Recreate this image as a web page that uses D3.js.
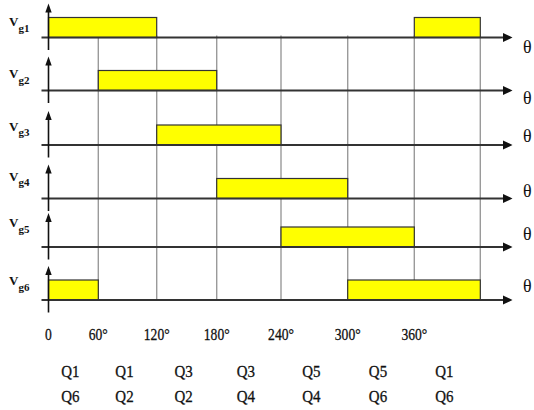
<!DOCTYPE html>
<html><head><meta charset="utf-8">
<script src="https://cdn.jsdelivr.net/npm/d3@7"></script>
<style>body{margin:0;background:#fff}svg{display:block}</style>
</head><body><svg id="c" width="534" height="410"></svg>
<script>
// ---- data ----
const signals = ["g1","g2","g3","g4","g5","g6"];
const pulses = [
  [[0,120],[360,420]],
  [[60,180]],
  [[120,240]],
  [[180,300]],
  [[240,360]],
  [[0,60],[300,420]]
];
const boundaries = [0,60,120,180,240,300,360,420];
const gridAngles = [60,120,180,240,300,360,420];
const tickAngles = [0,60,120,180,240,300,360];
const tickLabels = ["0","60°","120°","180°","240°","300°","360°"];
const qTop = ["Q1","Q1","Q3","Q3","Q5","Q5","Q1"];
const qBottom = ["Q6","Q2","Q2","Q4","Q4","Q6","Q6"];

// ---- layout ----
const x = d3.scaleLinear().domain(boundaries)
  .range([48.5,98.3,156.7,216.7,281,347.7,414.3,480.3]);
const y = d3.scaleOrdinal().domain(signals).range([37.5,90.5,145,198.5,247,300]);
const labelOff = [-11.5,-12.2,-14.5,-18,-20,-15];
const thetaOff = [9,7,-9,-7.5,-13.5,-14];
const barH = 20;
const svg = d3.select("#c");
const serif = "'Liberation Serif','Times New Roman',serif";

// grid lines
svg.append("g").selectAll("line").data(gridAngles).join("line")
  .attr("x1", d => x(d)).attr("x2", d => x(d))
  .attr("y1", y(signals[0]) - 2).attr("y2", y(signals[5]))
  .attr("stroke", "#9a9a9a").attr("stroke-width", 1.4);

// rows
signals.forEach((s, i) => {
  const g = svg.append("g");
  const by = y(s);
  g.selectAll("rect").data(pulses[i]).join("rect")
    .attr("x", d => x(d[0])).attr("width", d => x(d[1]) - x(d[0]))
    .attr("y", by - barH).attr("height", barH)
    .attr("fill", "#ffff00").attr("stroke", "#333").attr("stroke-width", 1.2);
  g.append("line").attr("x1", 41.5).attr("x2", 505).attr("y1", by).attr("y2", by)
    .attr("stroke", "#333").attr("stroke-width", 2);
  g.append("path").attr("d", `M503,${by-4.5}L512.5,${by}L503,${by+4.5}Z`).attr("fill", "#111");
  g.append("line").attr("x1", 48.5).attr("x2", 48.5).attr("y1", by + 12.5).attr("y2", by - 27)
    .attr("stroke", "#111").attr("stroke-width", 1.6);
  g.append("path").attr("d", `M45.3,${by-25}L48.5,${by-34}L51.7,${by-25}Z`).attr("fill", "#111");
  const t = g.append("text")
    .attr("x", 9).attr("y", by + labelOff[i])
    .attr("font-family", serif).attr("font-size", 13).attr("font-weight", "bold").attr("fill", "#111");
  t.append("tspan").text("V");
  t.append("tspan").attr("font-size", 11).attr("dy", 5.5).text(s);
  g.append("text").attr("x", 523).attr("y", by + thetaOff[i])
    .attr("dominant-baseline", "central")
    .attr("font-family", serif).attr("font-size", 18).attr("fill", "#111").text("θ");
});

// tick labels
svg.append("g").selectAll("text").data(tickAngles).join("text")
  .attr("transform", d => `translate(${x(d)},340) scale(0.8,1)`)
  .attr("text-anchor", "middle").attr("font-family", serif).attr("font-size", 17)
  .attr("fill", "#111").attr("stroke", "#111").attr("stroke-width", 0.3)
  .text((d, i) => tickLabels[i]);

// Q labels
const mids = boundaries.slice(0, -1).map((b, i) => (b + boundaries[i + 1]) / 2);
const qg = svg.append("g");
qg.selectAll("text.t").data(mids).join("text").attr("class", "t")
  .attr("transform", d => `translate(${x(d) - 3},377) scale(0.88,1)`)
  .attr("text-anchor", "middle").attr("font-family", serif).attr("font-size", 17)
  .attr("fill", "#111").attr("stroke", "#111").attr("stroke-width", 0.3)
  .text((d, i) => qTop[i]);
qg.selectAll("text.b").data(mids).join("text").attr("class", "b")
  .attr("transform", d => `translate(${x(d) - 3},402) scale(0.88,1)`)
  .attr("text-anchor", "middle").attr("font-family", serif).attr("font-size", 17)
  .attr("fill", "#111").attr("stroke", "#111").attr("stroke-width", 0.3)
  .text((d, i) => qBottom[i]);
</script></body></html>
